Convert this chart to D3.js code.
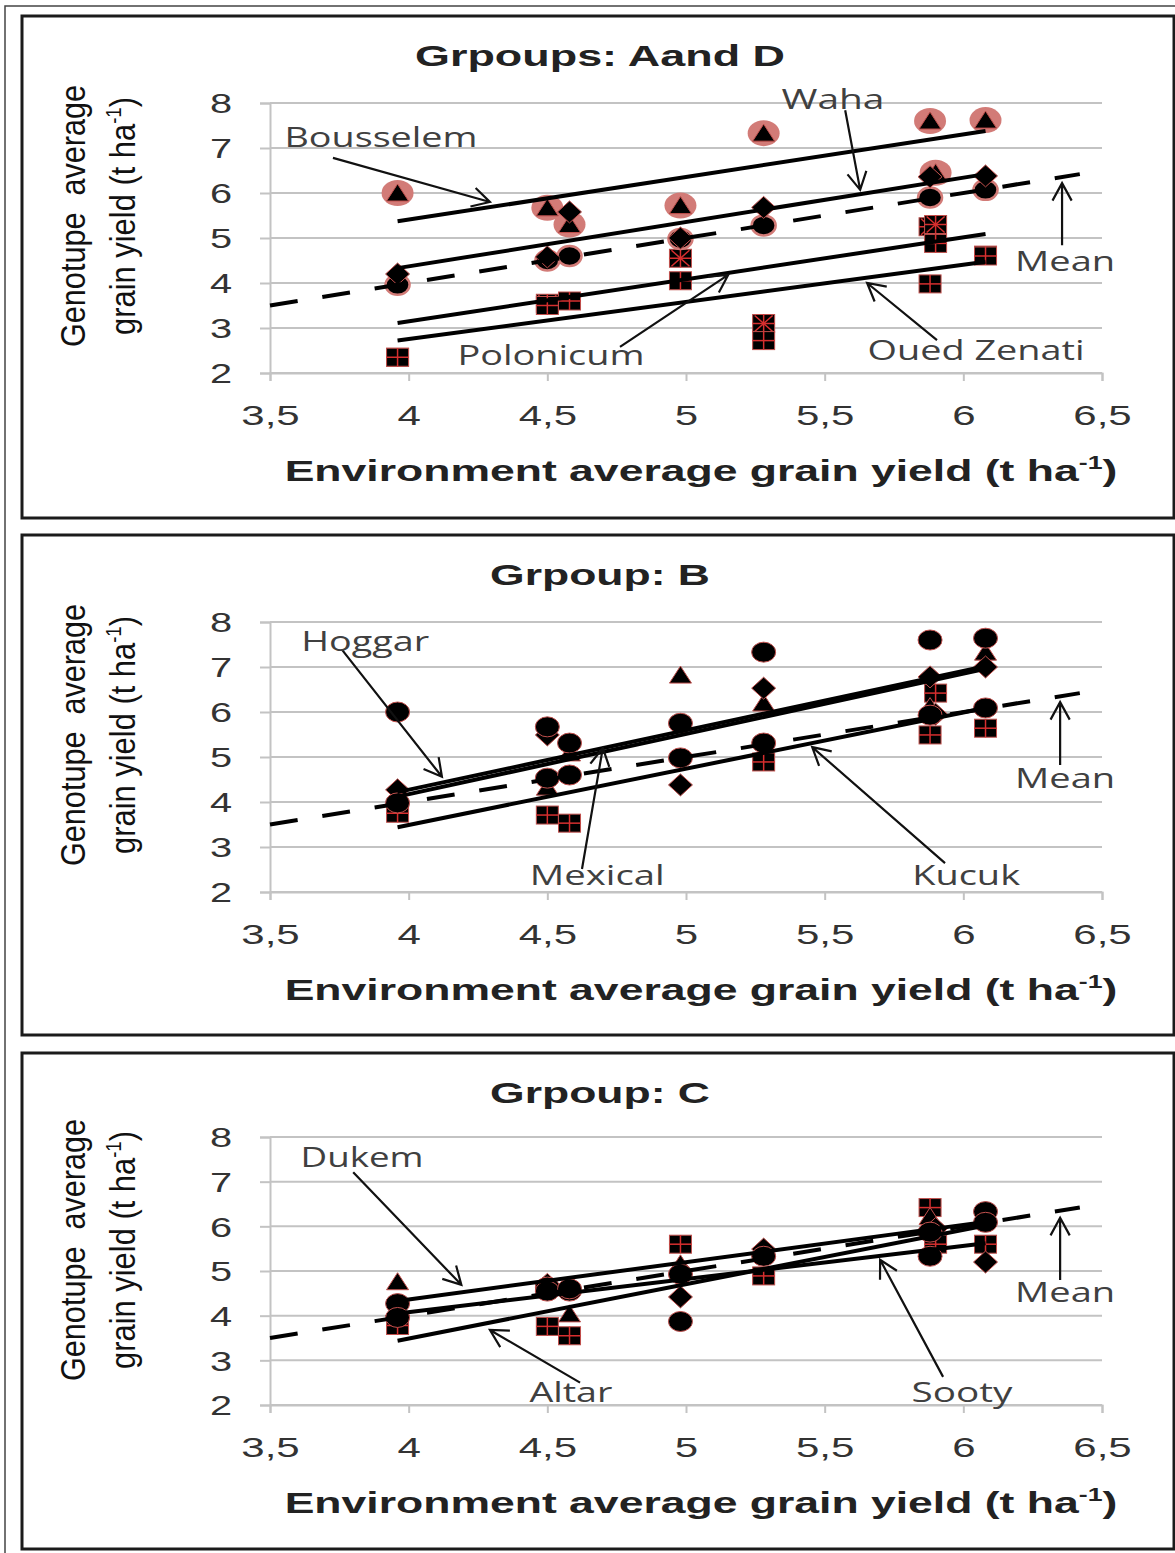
<!DOCTYPE html>
<html lang="en">
<head>
<meta charset="utf-8">
<title>Genotype vs environment grain yield</title>
<script src="https://d3js.org/d3.v7.min.js"></script>
<style>
  body { margin: 0; background: #fff; }
  svg text { font-family: "Liberation Sans", Arial, sans-serif; }
</style>
</head>
<body>
<div id="chart"></div>
<script>
// environment means (x axis, t/ha)
var envX = [3.96, 4.5, 4.58, 4.98, 5.28, 5.88, 5.9, 6.08];
var xTickVals = [3.5, 4, 4.5, 5, 5.5, 6, 6.5];
var yTickVals = [2, 3, 4, 5, 6, 7, 8];
var titles = ["Grpoups: Aand D", "Grpoup: B", "Grpoup: C"];
var meanRange = [3.5, 6.42];   // mean line y = x

// Groups A and D
var adBousselem  = [6.0, 5.67, 5.3, 5.72, 7.33, 7.6, 6.45, 7.62];
var adWaha       = [4.2, 4.58, 5.58, 5.0, 5.68, 6.36, null, 6.38];
var adMean       = [3.96, 4.5, 4.6, 4.98, 5.28, 5.9, null, 6.07];
var adPolonicum  = [2.35, 3.55, null, 4.55, 3.1, 5.25, 5.3, 4.62];
var adOuedZenati = [2.35, 3.5, 3.6, 4.05, 2.72, 3.98, 4.88, 4.6];
var adFitStart = [5.37, 4.33, 3.11, 2.72];   // Bousselem, Waha, Polonicum, Oued Zenati
var adFitEnd   = [7.38, 6.42, 5.09, 4.47];

// Group B
var bCircle   = [6.0, 5.67, 5.31, 5.75, 7.33, 7.6, null, 7.64];
var bMean     = [3.98, 4.53, 4.6, 4.98, 5.31, 5.93, null, 6.09];
var bDiamond  = [4.27, 5.49, null, 4.38, 6.53, 6.78, 5.95, 7.0];
var bTriangle = [4.2, 4.33, 5.09, 6.82, 6.2, 6.12, null, 7.33];
var bSquare   = [3.75, 3.71, 3.53, null, 4.89, 5.49, 6.42, 5.64];
var bFitStart = [4.22, 4.12, 3.44];   // Hoggar, Mexical, Kucuk
var bFitEnd   = [7.02, 6.96, 6.09];

// Group C
var cTriangle = [4.76, null, 4.04, 5.16, 5.45, 6.22, null, null];
var cMean     = [3.96, 4.55, 4.6, 4.93, 5.33, 5.87, null, 6.09];
var cCircle   = [4.27, 4.64, 4.55, 3.87, null, 5.33, null, 6.33];
var cDiamond  = [4.0, 4.7, null, 4.42, 5.49, null, 5.95, 5.2];
var cSquare   = [3.78, 3.76, 3.55, 5.6, 4.89, 6.42, 5.6, 5.6];
var cFitStart = [4.33, 4.05, 3.44];   // Dukem, Sooty, Altar
var cFitEnd   = [6.1, 5.62, 6.02];

// annotation labels (data units): text centre, arrow tail, arrow head
var adNotes = [
  {label: "Bousselem",   at: [3.90, 7.24], w: 193, from: [3.727, 6.78], to: [4.293, 5.80]},
  {label: "Waha",        at: [5.53, 8.07], w: 103, from: [5.574, 7.84], to: [5.628, 6.07]},
  {label: "Mean",        at: [6.367, 4.47], w: 100, from: [6.356, 4.84], to: [6.356, 6.22]},
  {label: "Polonicum",   at: [4.513, 2.38], w: 187, from: [4.762, 2.58], to: [5.152, 4.18]},
  {label: "Oued Zenati", at: [6.046, 2.51], w: 217, from: [5.905, 2.73], to: [5.653, 4.0]}
];
var bNotes = [
  {label: "Hoggar",  at: [3.843, 7.56], w: 128, from: [3.76, 7.38], to: [4.12, 4.56]},
  {label: "Mexical", at: [4.68, 2.36],  w: 135, from: [4.625, 2.51], to: [4.70, 5.2]},
  {label: "Kucuk",   at: [6.01, 2.36],  w: 108, from: [5.934, 2.64], to: [5.455, 5.22]},
  {label: "Mean",    at: [6.367, 4.53], w: 100, from: [6.349, 4.82], to: [6.349, 6.22]}
];
var cNotes = [
  {label: "Dukem", at: [3.832, 7.53], w: 123, from: [3.80, 7.21], to: [4.19, 4.69]},
  {label: "Altar", at: [4.585, 2.27], w: 83,  from: [4.618, 2.50], to: [4.293, 3.68]},
  {label: "Sooty", at: [5.995, 2.27], w: 101, from: [5.927, 2.63], to: [5.70, 5.25]},
  {label: "Mean",  at: [6.367, 4.51], w: 100, from: [6.349, 4.80], to: [6.349, 6.19]}
];

var panels = [
  {title: titles[0], tw: 370, box: [16, 518], y8: 103, y2: 373,
   series: [
     {vals: adBousselem, shape: "tri", halo: true},
     {vals: adPolonicum, shape: "sqs"},
     {vals: adOuedZenati, shape: "sqx"},
     {vals: adMean, shape: "cir", pink: true},
     {vals: adWaha, shape: "dia"}],
   fitStart: adFitStart, fitEnd: adFitEnd, notes: adNotes},
  {title: titles[1], tw: 220, box: [535, 1035], y8: 622, y2: 892,
   series: [
     {vals: bSquare, shape: "sqx"},
     {vals: bTriangle, shape: "tri"},
     {vals: bDiamond, shape: "dia"},
     {vals: bCircle, shape: "cir"},
     {vals: bMean, shape: "cir"}],
   fitStart: bFitStart, fitEnd: bFitEnd, notes: bNotes},
  {title: titles[2], tw: 220, box: [1053, 1549], y8: 1137, y2: 1405,
   series: [
     {vals: cSquare, shape: "sqx"},
     {vals: cTriangle, shape: "tri"},
     {vals: cDiamond, shape: "dia"},
     {vals: cCircle, shape: "cir"},
     {vals: cMean, shape: "cir"}],
   fitStart: cFitStart, fitEnd: cFitEnd, notes: cNotes}
];

var width = 1175, height = 1553;
var red = "#c0504d", pink = "#d27b77", grid = "#c3c3c3";

var svg = d3.select("#chart").append("svg")
    .attr("width", width).attr("height", height);

// outer frame
svg.append("rect").attr("x", 5).attr("y", 6).attr("width", 1190).attr("height", 1570)
    .attr("fill", "none").attr("stroke", "#444").attr("stroke-width", 1.5);

// text helper: centred text stretched horizontally to a target width (or by factor)
function fitText(parent, str, cx, cy, size, opts) {
  opts = opts || {};
  var t = parent.append("text")
      .attr("text-anchor", "middle")
      .attr("dy", "0.35em")
      .attr("font-size", size)
      .attr("font-weight", opts.bold ? "bold" : null)
      .attr("fill", opts.fill || "#222")
      .style("white-space", "pre");
  if (opts.family) t.style("font-family", opts.family);
  if (opts.sup) {
    t.append("tspan").text(str);
    t.append("tspan").attr("dy", -size * 0.38).attr("font-size", size * 0.6).text(opts.sup);
    t.append("tspan").attr("dy", size * 0.38).text(opts.after || "");
  } else {
    t.text(str);
  }
  var k = opts.k || 1;
  if (opts.w) k = opts.w / t.node().getComputedTextLength();
  t.attr("transform", "translate(" + cx + "," + cy + ")" + (opts.rot ? " rotate(" + opts.rot + ")" : "") +
         " scale(" + k + ",1)");
  return t;
}

function marker(g, shape, cx, cy, p) {
  if (shape === "halo") {
    g.append("ellipse").attr("cx", cx).attr("cy", cy).attr("rx", 16).attr("ry", 13).attr("fill", pink);
  } else if (shape === "tri") {
    g.append("path").attr("d", "M" + cx + "," + (cy - 9) + "L" + (cx + 11) + "," + (cy + 8) + "L" + (cx - 11) + "," + (cy + 8) + "Z")
        .attr("fill", "#000").attr("stroke", red).attr("stroke-width", 1);
  } else if (shape === "dia") {
    g.append("path").attr("d", "M" + cx + "," + (cy - 11) + "L" + (cx + 12) + "," + cy + "L" + cx + "," + (cy + 11) + "L" + (cx - 12) + "," + cy + "Z")
        .attr("fill", "#000").attr("stroke", red).attr("stroke-width", 1);
  } else if (shape === "cir") {
    g.append("ellipse").attr("cx", cx).attr("cy", cy).attr("rx", 12).attr("ry", 10)
        .attr("fill", "#000").attr("stroke", p ? pink : red).attr("stroke-width", p ? 2.5 : 1);
  } else {
    g.append("rect").attr("x", cx - 11).attr("y", cy - 9).attr("width", 22).attr("height", 18)
        .attr("fill", "#000").attr("stroke", red).attr("stroke-width", 1);
    var segs = [[cx, cy - 9, cx, cy + 9], [cx - 11, cy, cx + 11, cy]];
    if (shape === "sqs") segs.push([cx - 9, cy - 8, cx + 9, cy + 8], [cx - 9, cy + 8, cx + 9, cy - 8]);
    segs.forEach(function(s) {
      g.append("line").attr("x1", s[0]).attr("y1", s[1]).attr("x2", s[2]).attr("y2", s[3])
          .attr("stroke", "#d62f2f").attr("stroke-width", 1.5);
    });
  }
}

function arrow(g, p0, p1) {
  var a = Math.atan2(p1[1] - p0[1], p1[0] - p0[0]), L = 20, th = 0.5;
  var h1 = [p1[0] - L * Math.cos(a - th), p1[1] - L * Math.sin(a - th)];
  var h2 = [p1[0] - L * Math.cos(a + th), p1[1] - L * Math.sin(a + th)];
  g.append("path")
      .attr("d", "M" + p0 + "L" + p1 + "M" + h1 + "L" + p1 + "L" + h2)
      .attr("fill", "none").attr("stroke", "#111").attr("stroke-width", 2.2);
}

var x = d3.scaleLinear().domain([3.5, 6.5]).range([270, 1102]);

panels.forEach(function(p) {
  var y = d3.scaleLinear().domain([2, 8]).range([p.y2, p.y8]);
  var g = svg.append("g");

  g.append("rect").attr("x", 22).attr("y", p.box[0]).attr("width", 1152).attr("height", p.box[1] - p.box[0])
      .attr("fill", "#fff").attr("stroke", "#1b1b1b").attr("stroke-width", 3);

  // gridlines
  g.selectAll(".grid").data(yTickVals).enter().append("line")
      .attr("x1", x(3.5)).attr("x2", x(6.5))
      .attr("y1", function(d) { return y(d); }).attr("y2", function(d) { return y(d); })
      .attr("stroke", grid).attr("stroke-width", 2);

  // axes
  var ya = g.append("g").attr("transform", "translate(" + x(3.5) + ",0)")
      .call(d3.axisLeft(y).tickValues(yTickVals).tickSize(10).tickFormat(d3.format("d")));
  var xa = g.append("g").attr("transform", "translate(0," + p.y2 + ")")
      .call(d3.axisBottom(x).tickValues(xTickVals).tickSize(8)
        .tickFormat(function(d) { return String(d).replace(".", ","); }));
  [ya, xa].forEach(function(a) {
    a.select(".domain").attr("stroke", grid).attr("stroke-width", 2);
    a.selectAll(".tick line").attr("stroke", grid).attr("stroke-width", 2);
    a.selectAll(".tick text").remove();
  });
  ya.selectAll(".tick").each(function(d) {
    fitText(d3.select(this), String(d), -49, 0, 28, {k: 1.42, fill: "#333"});
  });
  xa.selectAll(".tick").each(function(d) {
    fitText(d3.select(this), String(d).replace(".", ","), 0, 42, 28, {k: 1.5, fill: "#333"});
  });

  // titles
  fitText(g, p.title, 600, p.box[0] + 39, 30, {bold: true, w: p.tw});
  fitText(g, "Environment average grain yield (t ha", 701, p.y2 + 97, 30,
      {bold: true, w: 833, sup: "-1", after: ")"});
  fitText(g, "Genotupe  average", 72, p.y8 + 113, 36, {rot: -90, w: 262, fill: "#111"});
  fitText(g, "grain yield (t ha", 122, p.y8 + 113, 36,
      {rot: -90, w: 238, fill: "#111", sup: "-1", after: ")"});

  // markers
  var mg = g.append("g");
  p.series.forEach(function(s) {
    if (!s.halo) return;
    envX.forEach(function(ex, i) { if (s.vals[i] != null) marker(mg, "halo", x(ex), y(s.vals[i])); });
  });
  p.series.forEach(function(s) {
    envX.forEach(function(ex, i) {
      if (s.vals[i] != null) marker(mg, s.shape, x(ex), y(s.vals[i]), s.pink);
    });
  });

  // mean line (y = x)
  g.append("line")
      .attr("x1", x(meanRange[0])).attr("y1", y(meanRange[0]))
      .attr("x2", x(meanRange[1])).attr("y2", y(meanRange[1]))
      .attr("stroke", "#000").attr("stroke-width", 4).attr("stroke-dasharray", "28,25");

  // fitted lines
  var x0 = envX[0], x1 = envX[envX.length - 1];
  p.fitStart.forEach(function(v, i) {
    g.append("line")
        .attr("x1", x(x0)).attr("y1", y(v))
        .attr("x2", x(x1)).attr("y2", y(p.fitEnd[i]))
        .attr("stroke", "#000").attr("stroke-width", 4);
  });

  // annotations
  p.notes.forEach(function(n) {
    arrow(g, [x(n.from[0]), y(n.from[1])], [x(n.to[0]), y(n.to[1])]);
    fitText(g, n.label, x(n.at[0]), y(n.at[1]), 27, {w: n.w, fill: "#404040", family: "'Open Sans', sans-serif"});
  });
});
</script>
</body>
</html>
